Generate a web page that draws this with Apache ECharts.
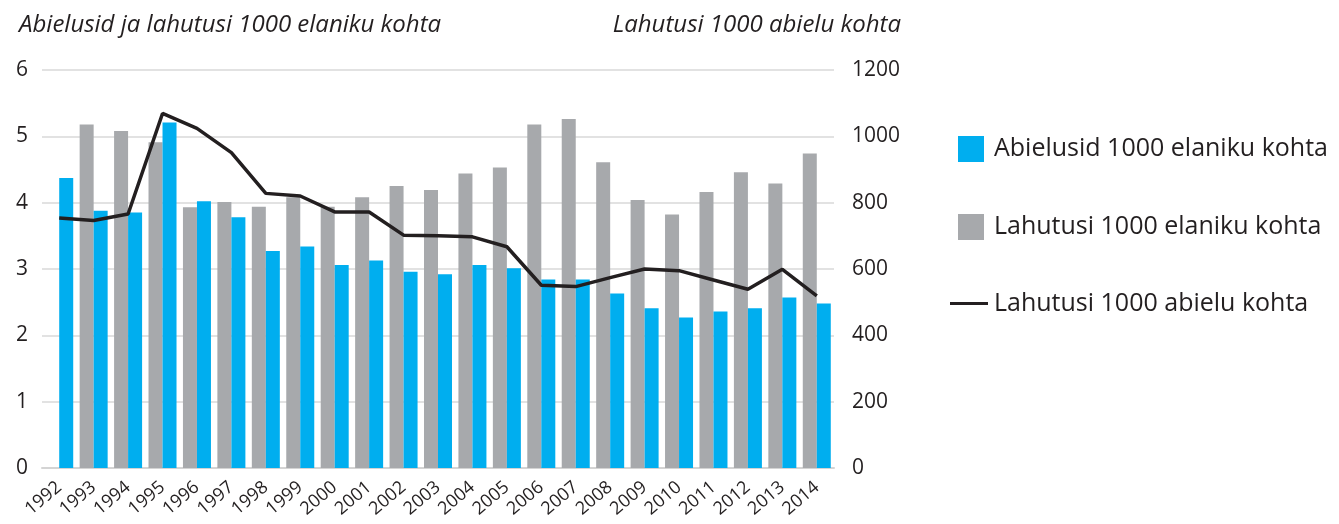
<!DOCTYPE html>
<html>
<head>
<meta charset="utf-8">
<script src="https://cdn.jsdelivr.net/npm/echarts@6/dist/echarts.min.js"></script>
<style>
  html, body { margin: 0; padding: 0; background: #fff; }
  #chart { width: 1339px; height: 524px; }
</style>
</head>
<body>
<div id="chart"></div>
<script>
var years = ['1992','1993','1994','1995','1996','1997','1998','1999','2000','2001','2002','2003',
             '2004','2005','2006','2007','2008','2009','2010','2011','2012','2013','2014'];
// abielusid 1000 elaniku kohta
var marriages = [4.37, 3.88, 3.85, 5.21, 4.02, 3.78, 3.27, 3.34, 3.06, 3.13, 2.96, 2.92,
                 3.06, 3.01, 2.84, 2.84, 2.63, 2.41, 2.27, 2.36, 2.41, 2.57, 2.48];
// lahutusi 1000 elaniku kohta (1992 puudub)
var divorces = [null, 5.18, 5.08, 4.91, 3.93, 4.01, 3.94, 4.08, 3.94, 4.08, 4.25, 4.19,
                4.44, 4.53, 5.18, 5.26, 4.61, 4.04, 3.82, 4.16, 4.46, 4.29, 4.74];
// lahutusi 1000 abielu kohta
var divPerMarriage = [754, 746, 766, 1069, 1024, 951, 828, 820, 772, 772, 702, 700,
                      697, 667, 551, 547, 574, 600, 595, 567, 539, 599, 519];
var leftTicks = [0, 6, 1];
var rightTicks = [0, 1200, 200];

var names = ['Abielusid 1000 elaniku kohta', 'Lahutusi 1000 elaniku kohta', 'Lahutusi 1000 abielu kohta'];
var font = 'Open Sans';
var ink = '#231f20';

var chart = echarts.init(document.getElementById('chart'));
var option = {
    animation: false,
    textStyle: { fontFamily: font, color: ink },
    title: [
        { text: 'Abielusid ja lahutusi 1000 elaniku kohta', left: 14, top: 8,
          textStyle: { fontFamily: font, fontStyle: 'italic', fontWeight: 'normal', fontSize: 24, color: ink } },
        { text: 'Lahutusi 1000 abielu kohta', right: 1339 - 906, top: 8,
          textStyle: { fontFamily: font, fontStyle: 'italic', fontWeight: 'normal', fontSize: 24, color: ink } }
    ],
    legend: [
        {
            orient: 'vertical', left: 953, top: 131,
            itemWidth: 26, itemHeight: 26, itemGap: 52,
            data: [{ name: names[0], icon: 'rect' }, { name: names[1], icon: 'rect' }],
            textStyle: { fontFamily: font, fontSize: 25, color: ink, padding: [0, 0, 0, 5] },
            selectedMode: false
        },
        {
            orient: 'vertical', left: 945, top: 286,
            itemWidth: 38, itemHeight: 3,
            data: [{ name: names[2], icon: 'path://M0,0H38V3H0Z' }],
            textStyle: { fontFamily: font, fontSize: 25, color: ink, padding: [0, 0, 0, 1] },
            selectedMode: false
        }
    ],
    grid: { left: 42, right: 1339 - 834, top: 70, bottom: 524 - 468 },
    xAxis: {
        type: 'category',
        data: years,
        axisLine: { lineStyle: { color: '#d4d4d4', width: 2 } },
        axisTick: { show: false },
        axisLabel: { rotate: 40, fontSize: 18, color: ink, margin: 17, interval: 0 }
    },
    yAxis: [
        {
            type: 'value', min: leftTicks[0], max: leftTicks[1], interval: leftTicks[2],
            axisLine: { show: false }, axisTick: { show: false },
            axisLabel: { fontSize: 21, color: ink, margin: 14 },
            splitLine: { lineStyle: { color: '#d9d9d9', width: 1.5 } }
        },
        {
            type: 'value', min: rightTicks[0], max: rightTicks[1], interval: rightTicks[2],
            axisLine: { show: false }, axisTick: { show: false },
            axisLabel: { fontSize: 21, color: ink, margin: 18, formatter: function (v) { return String(v); } },
            splitLine: { show: false }
        }
    ],
    series: [
        {
            name: names[1], type: 'bar', data: divorces,
            barWidth: 14, barGap: '0%',
            itemStyle: { color: '#a7a9ac' }
        },
        {
            name: names[0], type: 'bar', data: marriages,
            barWidth: 14, barGap: '0%',
            itemStyle: { color: '#00aeef' }
        },
        {
            name: names[2], type: 'line', yAxisIndex: 1, data: divPerMarriage,
            symbol: 'none',
            lineStyle: { color: ink, width: 3.5 },
            itemStyle: { color: ink }
        }
    ]
};
chart.setOption(option);
window.onresize = chart.resize;
</script>
</body>
</html>
